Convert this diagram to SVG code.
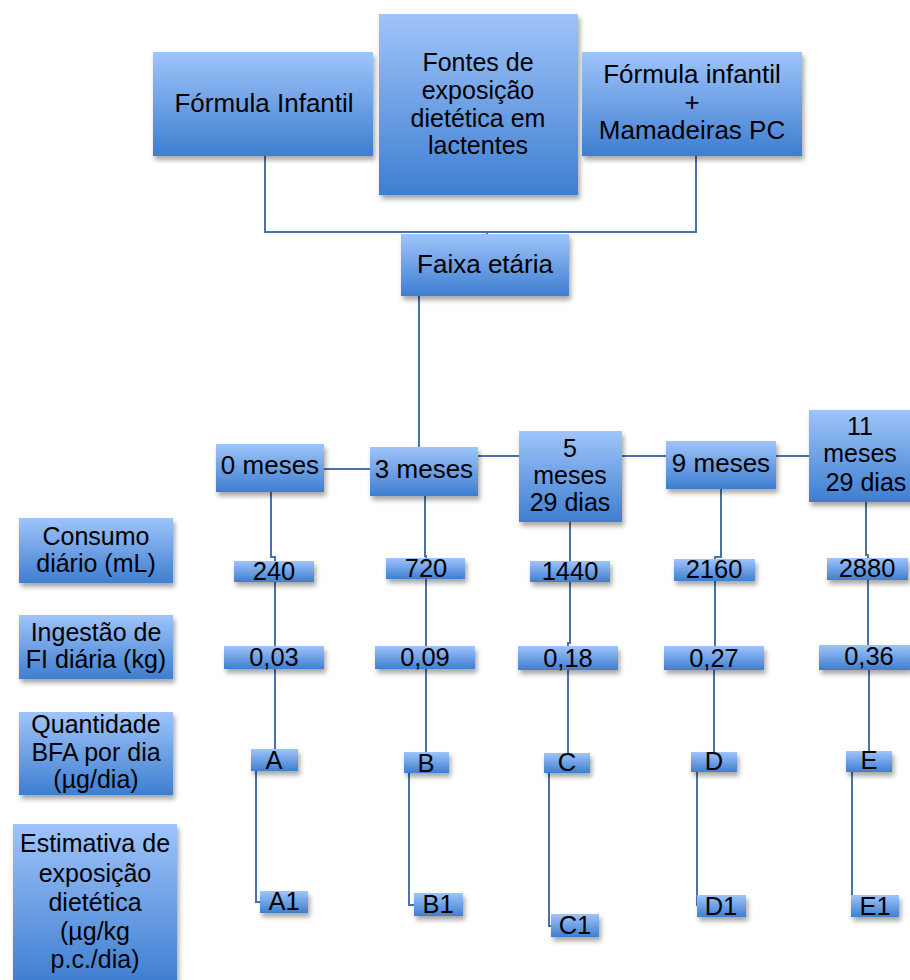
<svg xmlns="http://www.w3.org/2000/svg" width="910" height="980" viewBox="0 0 910 980">
<defs>
<linearGradient id="g" x1="0" y1="0" x2="0" y2="1">
<stop offset="0" stop-color="#9fc4fa"/>
<stop offset="1" stop-color="#3e7ed0"/>
</linearGradient>
<filter id="sh" x="-20%" y="-20%" width="150%" height="160%">
<feDropShadow dx="2" dy="4" stdDeviation="2.5" flood-color="#000" flood-opacity="0.35"/>
</filter>
</defs>
<style>
.box{fill:url(#g);filter:url(#sh)}
.t{font-family:"Liberation Sans",Arial,sans-serif;font-size:26px;fill:#000;text-anchor:middle}
.tm{font-size:25px}
.tv{font-size:25.5px}
.c{fill:none;stroke:#4a72a8;stroke-width:2}
</style>
<rect width="910" height="980" fill="#fff"/>
<g id="connectors" class="c">
<path d="M265,156 V232 H696 V156"/>
<path d="M487,232 V235"/>
<path d="M419,296 V447"/>
<path d="M324,469 H370"/>
<path d="M478,456 H519"/>
<path d="M622,456 H666"/>
<path d="M776,456 H809"/>
<path d="M271,492 V557 H275 V561"/>
<path d="M275,582 V646"/>
<path d="M275,669 V749"/>
<path d="M425,496 V556 H426 V558"/>
<path d="M426,579 V646"/>
<path d="M426,669 V752"/>
<path d="M570,522 V561"/>
<path d="M570,582 V643 H568 V646"/>
<path d="M568,670 V753"/>
<path d="M721,489 V557 H715 V559"/>
<path d="M715,581 V646"/>
<path d="M714,670 V752"/>
<path d="M866,502 V555 H868 V558"/>
<path d="M868,580 V645"/>
<path d="M869,670 V751"/>
<path d="M256,771 V902 H260"/>
<path d="M409,773 V905 H414"/>
<path d="M549,773 V926 H551"/>
<path d="M697,772 V906"/>
<path d="M852,772 V906"/>
</g>
<g id="formula-infantil"><rect class="box" x="153" y="52" width="220" height="104"/><text class="t" x="264" y="112">Fórmula Infantil</text></g>
<g id="fontes"><rect class="box" x="379" y="14" width="199" height="181"/><text class="t tm" x="478" y="71">Fontes de</text><text class="t tm" x="478" y="99">exposição</text><text class="t tm" x="478" y="127">dietética em</text><text class="t tm" x="478" y="154">lactentes</text></g>
<g id="formula-mamadeiras"><rect class="box" x="582" y="52" width="220" height="104"/><text class="t" x="692" y="83">Fórmula infantil</text><text class="t" x="692" y="111">+</text><text class="t" x="692" y="139">Mamadeiras PC</text></g>
<g id="faixa"><rect class="box" x="401" y="234" width="168" height="62"/><text class="t" x="485" y="273">Faixa etária</text></g>
<g id="m0"><rect class="box" x="216" y="444" width="108" height="48"/><text class="t" x="270" y="474">0 meses</text></g>
<g id="m3"><rect class="box" x="370" y="447" width="108" height="49"/><text class="t" x="424" y="478">3 meses</text></g>
<g id="m5"><rect class="box" x="519" y="431" width="103" height="91"/><text class="t tm" x="570" y="457">5</text><text class="t tm" x="570" y="484">meses</text><text class="t tm" x="570" y="511">29 dias</text></g>
<g id="m9"><rect class="box" x="666" y="441" width="110" height="48"/><text class="t" x="721" y="472">9 meses</text></g>
<g id="m11"><rect class="box" x="809" y="410" width="104" height="92"/><text class="t tm" x="860" y="435">11</text><text class="t tm" x="860" y="462">meses</text><text class="t tm" x="866" y="491">29 dias</text></g>
<g id="lbl-consumo"><rect class="box" x="19" y="518" width="154" height="65"/><text class="t tm" x="96" y="545">Consumo</text><text class="t tm" x="96" y="572">diário (mL)</text></g>
<g id="lbl-ingestao"><rect class="box" x="19" y="615" width="154" height="64"/><text class="t tm" x="96" y="641">Ingestão de</text><text class="t tm" x="96" y="668">FI diária (kg)</text></g>
<g id="lbl-quantidade"><rect class="box" x="19" y="712" width="154" height="83"/><text class="t tm" x="96" y="733">Quantidade</text><text class="t tm" x="96" y="761">BFA por dia</text><text class="t tm" x="96" y="788">(µg/dia)</text></g>
<g id="lbl-estimativa"><rect class="box" x="13" y="824" width="164" height="160"/><text class="t tm" x="95" y="852">Estimativa de</text><text class="t tm" x="95" y="882">exposição</text><text class="t tm" x="95" y="911">dietética</text><text class="t tm" x="95" y="940">(µg/kg</text><text class="t tm" x="95" y="968">p.c./dia)</text></g>
<g id="v240"><rect class="box" x="234" y="561" width="80" height="21"/><text class="t tv" x="274" y="580">240</text></g>
<g id="v720"><rect class="box" x="386" y="558" width="79" height="21"/><text class="t tv" x="426" y="577">720</text></g>
<g id="v1440"><rect class="box" x="530" y="561" width="80" height="21"/><text class="t tv" x="570" y="580">1440</text></g>
<g id="v2160"><rect class="box" x="674" y="559" width="81" height="22"/><text class="t tv" x="714" y="578">2160</text></g>
<g id="v2880"><rect class="box" x="827" y="558" width="81" height="22"/><text class="t tv" x="867" y="577">2880</text></g>
<g id="k003"><rect class="box" x="224" y="646" width="100" height="23"/><text class="t tv" x="274" y="666">0,03</text></g>
<g id="k009"><rect class="box" x="375" y="646" width="100" height="23"/><text class="t tv" x="425" y="666">0,09</text></g>
<g id="k018"><rect class="box" x="518" y="646" width="100" height="24"/><text class="t tv" x="568" y="667">0,18</text></g>
<g id="k027"><rect class="box" x="664" y="646" width="100" height="24"/><text class="t tv" x="714" y="667">0,27</text></g>
<g id="k036"><rect class="box" x="819" y="645" width="91" height="25"/><text class="t tv" x="869" y="665">0,36</text></g>
<g id="A"><rect class="box" x="251" y="749" width="47" height="22"/><text class="t tv" x="274" y="769">A</text></g>
<g id="B"><rect class="box" x="404" y="752" width="45" height="21"/><text class="t tv" x="426" y="772">B</text></g>
<g id="C"><rect class="box" x="544" y="753" width="46" height="20"/><text class="t tv" x="567" y="771">C</text></g>
<g id="D"><rect class="box" x="691" y="752" width="46" height="20"/><text class="t tv" x="714" y="770">D</text></g>
<g id="E"><rect class="box" x="846" y="751" width="46" height="21"/><text class="t tv" x="869" y="769">E</text></g>
<g id="A1"><rect class="box" x="260" y="891" width="48" height="22"/><text class="t tv" x="284" y="910">A1</text></g>
<g id="B1"><rect class="box" x="414" y="893" width="49" height="23"/><text class="t tv" x="438" y="913">B1</text></g>
<g id="C1"><rect class="box" x="551" y="914" width="48" height="23"/><text class="t tv" x="575" y="934">C1</text></g>
<g id="D1"><rect class="box" x="697" y="895" width="49" height="22"/><text class="t tv" x="721" y="915">D1</text></g>
<g id="E1"><rect class="box" x="851" y="895" width="48" height="22"/><text class="t tv" x="875" y="915">E1</text></g>
</svg>
